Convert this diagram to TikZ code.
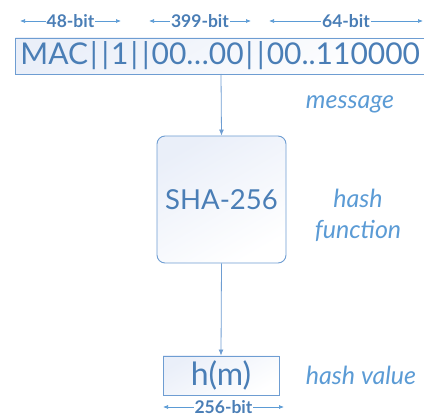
\documentclass[tikz,border=0pt]{standalone}
\usepackage{fontspec}
\setmainfont{Lato}
\usetikzlibrary{arrows.meta}
\definecolor{boxtext}{HTML}{4A7EB6}
\definecolor{labeltext}{HTML}{5B9BD5}
\definecolor{boxline}{HTML}{6E9DD2}
\definecolor{boxfill}{HTML}{EAEFF9}

\newcommand{\bars}{\hspace{2pt}|\hspace{4pt}|\hspace{2pt}}

\tikzset{
    databox/.style={draw=boxline, line width=0.9pt, shading=axis, top color=boxfill, bottom color=white, shading angle=30, text=boxtext, inner sep=0pt},
    bitlabel/.style={fill=white, text=boxtext, font=\fontsize{17.5}{19}\selectfont\bfseries, inner xsep=1pt, inner ysep=0pt},
    sidelabel/.style={text=labeltext, font=\fontsize{25}{31}\selectfont\itshape, align=center},
    bitarrow/.style={{Latex[length=5pt,width=4pt]}-{Latex[length=5pt,width=4pt]}, draw=labeltext, line width=0.7pt},
    flowarrow/.style={-{Latex[length=6pt,width=5pt]}, draw=boxline, line width=0.8pt}
}

\begin{document}
\begin{tikzpicture}[x=1pt,y=-1pt]
    \useasboundingbox (0,0) rectangle (424,417);
    % message box (runs off the right edge)
    \node[databox, anchor=west, minimum height=36pt, inner xsep=5pt, font=\fontsize{30}{36}\selectfont] (msg) at (15,56) {MAC\bars 1\bars 00…00\bars 00..110000};
    \node[databox, rounded corners=8pt, minimum width=129pt, minimum height=127pt, font=\fontsize{27.5}{32}\selectfont] (sha) at (221.5,199.5) {SHA-256};
    \node[databox, minimum width=116pt, minimum height=39pt, font=\fontsize{32}{36}\selectfont] (hm) at (221,375.5) {h(m)};
    % side labels
    \node[sidelabel] (lmsg) at (350,104) {message};
    \node[sidelabel] (lfun) at (358,215) {hash\\function};
    \node[sidelabel] (lval) at (361,375) {hash value};
    % bit widths
    \coordinate (b1l) at (20,21);
    \coordinate (b1r) at (121,21);
    \coordinate (b2l) at (149,21);
    \coordinate (b2r) at (251,21);
    \coordinate (b3l) at (269,21);
    \coordinate (b3r) at (423,21);
    \coordinate (b4l) at (163,407);
    \coordinate (b4r) at (284,407);
    \draw[bitarrow] (b1l) -- node[bitlabel] {48-bit} (b1r);
    \draw[bitarrow] (b2l) -- node[bitlabel] {399-bit} (b2r);
    \draw[bitarrow] (b3l) -- node[bitlabel] {64-bit} (b3r);
    \draw[bitarrow] (b4l) -- node[bitlabel] {256-bit} (b4r);
    % flow
    \coordinate (msgout) at (221,74);
    \draw[flowarrow] (msgout) -- (sha.north);
    \draw[flowarrow] (sha.south) -- (hm.north);
\end{tikzpicture}
\end{document}
